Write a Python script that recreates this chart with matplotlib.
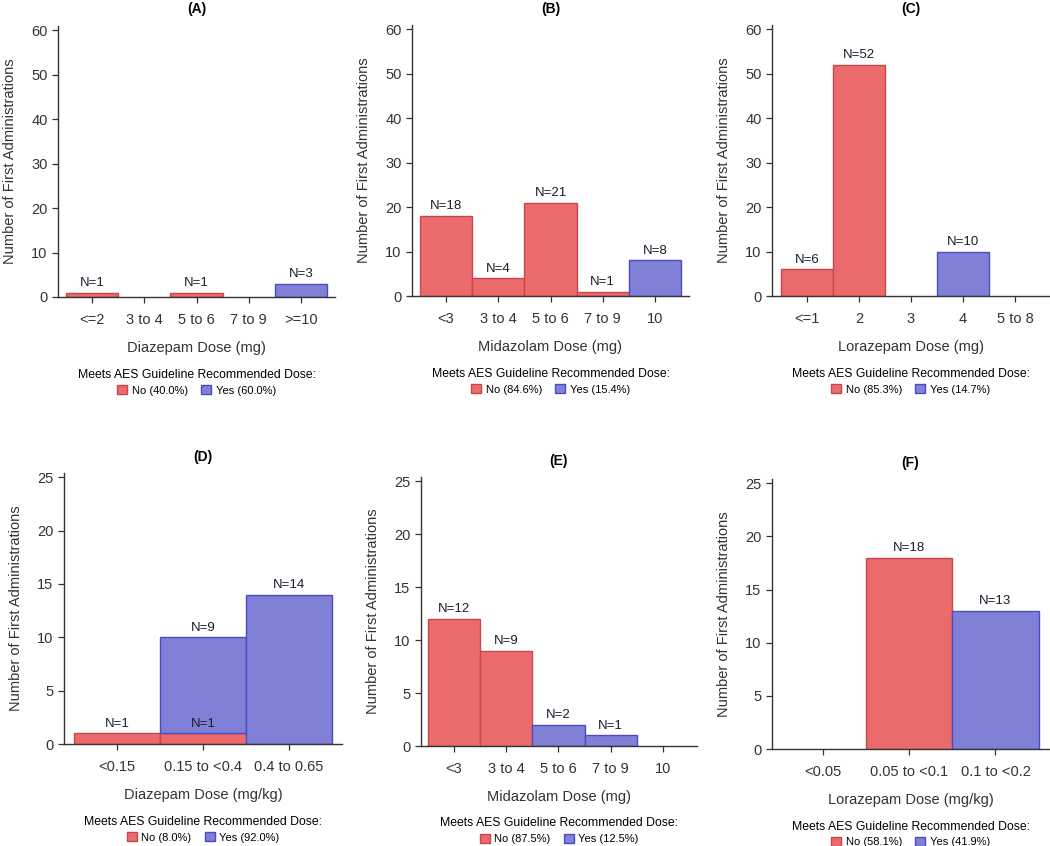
import matplotlib
matplotlib.use('Agg')
import matplotlib.pyplot as plt
import numpy as np
from matplotlib.patches import Patch

plt.rcParams['font.family'] = ['Liberation Sans', 'DejaVu Sans']

RED = '#EB6B6D'
RED_EDGE = '#C9474B'
BLUE = '#8080D6'
BLUE_EDGE = '#4B4BC6'

# panel data: categories, "No" counts, "Yes" counts
cats_a = ['<=2', '3 to 4', '5 to 6', '7 to 9', '>=10']
no_a = [1, 0, 1, 0, 0]
yes_a = [0, 0, 0, 0, 3]

cats_b = ['<3', '3 to 4', '5 to 6', '7 to 9', '10']
no_b = [18, 4, 21, 1, 0]
yes_b = [0, 0, 0, 0, 8]

cats_c = ['<=1', '2', '3', '4', '5 to 8']
no_c = [6, 52, 0, 0, 0]
yes_c = [0, 0, 0, 10, 0]

cats_d = ['<0.15', '0.15 to <0.4', '0.4 to 0.65']
no_d = [1, 1, 0]
yes_d = [0, 9, 14]

cats_e = ['<3', '3 to 4', '5 to 6', '7 to 9', '10']
no_e = [12, 9, 0, 0, 0]
yes_e = [0, 0, 2, 1, 0]

cats_f = ['<0.05', '0.05 to <0.1', '0.1 to <0.2']
no_f = [0, 18, 0]
yes_f = [0, 0, 13]

titles = ['(A)', '(B)', '(C)', '(D)', '(E)', '(F)']
xlabels = ['Diazepam Dose (mg)', 'Midazolam Dose (mg)', 'Lorazepam Dose (mg)',
           'Diazepam Dose (mg/kg)', 'Midazolam Dose (mg)', 'Lorazepam Dose (mg/kg)']
legend_no = ['No (40.0%)', 'No (84.6%)', 'No (85.3%)', 'No (8.0%)', 'No (87.5%)', 'No (58.1%)']
legend_yes = ['Yes (60.0%)', 'Yes (15.4%)', 'Yes (14.7%)', 'Yes (92.0%)', 'Yes (12.5%)', 'Yes (41.9%)']

W, H = 1050, 846
fig = plt.figure(figsize=(W / 100, H / 100), dpi=100)

# axes boxes in pixels: left, right, top, bottom
boxes = [(58, 335, 26, 297), (412, 689, 25, 296), (772, 1049, 25, 296),
         (64, 342, 473, 744), (421, 697, 477, 746), (772, 1049, 479, 749)]
ylims = [(0, 60.9), (0, 60.9), (0, 60.9), (0, 25.4), (0, 25.4), (0, 25.4)]
yticks = [np.arange(0, 61, 10)] * 3 + [np.arange(0, 26, 5)] * 3
xlims = [(-0.65, 4.65), (-0.65, 4.65), (-0.67, 4.65),
         (-0.62, 2.62), (-0.63, 4.65), (-0.59, 2.62)]

panels = [(cats_a, no_a, yes_a), (cats_b, no_b, yes_b), (cats_c, no_c, yes_c),
          (cats_d, no_d, yes_d), (cats_e, no_e, yes_e), (cats_f, no_f, yes_f)]

for i, (cats, no, yes) in enumerate(panels):
    l, r, t, b = boxes[i]
    ax = fig.add_axes([l / W, 1 - b / H, (r - l) / W, (b - t) / H])
    x = np.arange(len(cats))
    no = np.array(no)
    yes = np.array(yes)
    m_no = no > 0
    m_yes = yes > 0
    ax.bar(x[m_no], no[m_no], width=1.0, color=RED, edgecolor=RED_EDGE,
           linewidth=1.0, zorder=2)
    ax.bar(x[m_yes], yes[m_yes], width=1.0, bottom=no[m_yes], color=BLUE,
           edgecolor=BLUE_EDGE, linewidth=1.0, zorder=2)

    for xi, n, y in zip(x, no, yes):
        if n > 0:
            ax.annotate(f'N={n}', (xi, n), xytext=(0, 2.5), textcoords='offset points',
                        ha='center', va='bottom', fontsize=9.5, color='#1c1c2c', zorder=3)
        if y > 0:
            ax.annotate(f'N={y}', (xi, n + y), xytext=(0, 2.5), textcoords='offset points',
                        ha='center', va='bottom', fontsize=9.5, color='#1c1c2c', zorder=3)

    ax.set_xlim(*xlims[i])
    ax.set_ylim(*ylims[i])
    ax.set_yticks(yticks[i])
    ax.set_xticks(x)
    ax.set_xticklabels(cats)
    for s in ['top', 'right']:
        ax.spines[s].set_visible(False)
    for s in ['left', 'bottom']:
        ax.spines[s].set_color('#333333')
        ax.spines[s].set_linewidth(1.0)
    ax.tick_params(axis='both', length=4.5, width=0.9, color='#333333',
                   labelsize=10.5, labelcolor='#333333')
    ax.tick_params(axis='x', pad=7)
    ax.tick_params(axis='y', pad=3)
    ax.set_xlabel(xlabels[i], fontsize=10.5, color='#333333', labelpad=10)
    ax.set_ylabel('Number of First Administrations', fontsize=10.5, color='#333333', labelpad=10)
    ax.set_title(titles[i], fontsize=10, fontweight='bold', pad=9)

    handles = [Patch(facecolor=RED, edgecolor=RED_EDGE), Patch(facecolor=BLUE, edgecolor=BLUE_EDGE)]
    leg = ax.legend(handles, [legend_no[i], legend_yes[i]], loc='upper center',
                    bbox_to_anchor=(0.5, -0.245), ncol=2, frameon=False,
                    title='Meets AES Guideline Recommended Dose:', fontsize=8,
                    title_fontsize=8.8, handlelength=0.9, handleheight=0.9,
                    handletextpad=0.4, columnspacing=1.2, borderpad=0, labelspacing=0.2)
    leg._legend_box.sep = 3

fig.savefig('out.png', dpi=100)
